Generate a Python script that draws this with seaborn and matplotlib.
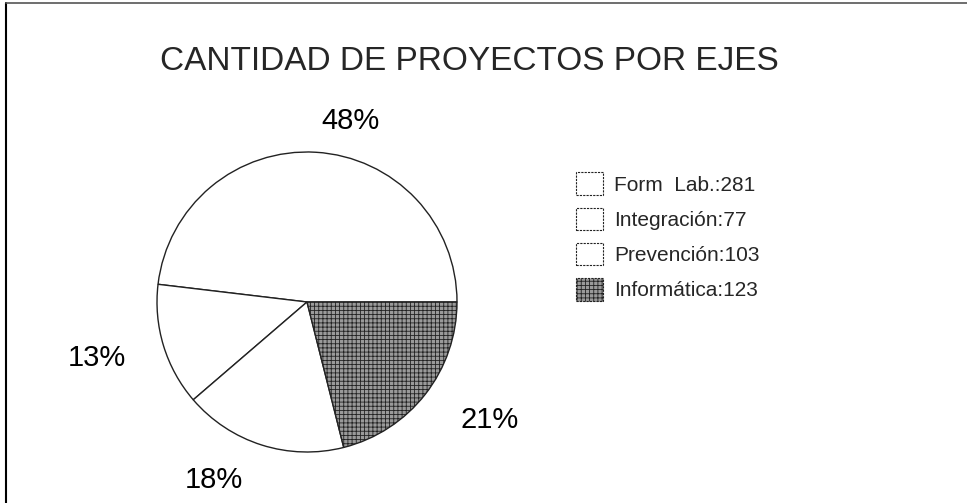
import numpy as np
import matplotlib
matplotlib.use('Agg')
import matplotlib.pyplot as plt
from matplotlib.lines import Line2D
import seaborn as sns

# data
categorias = ['Form Lab.', 'Integración', 'Prevención', 'Informática']
proyectos = [281, 77, 103, 123]
leyenda = ['Form  Lab.:281', 'Integración:77', 'Prevención:103', 'Informática:123']
titulo = 'CANTIDAD DE PROYECTOS POR EJES'

sns.set_theme(style='white')
plt.rcParams['font.family'] = ['Liberation Sans', 'DejaVu Sans']
plt.rcParams['hatch.color'] = '#444444'
plt.rcParams['hatch.linewidth'] = 0.6

fig = plt.figure(figsize=(9.67, 5.03), dpi=100)
fig.patch.set_facecolor('white')
ax = fig.add_axes([157 / 967, 51 / 503, 300 / 967, 300 / 503])

colores = ['white', 'white', 'white', '#9a9a9a']
wedges, textos, pcts = ax.pie(proyectos, colors=colores, startangle=0, counterclock=True,
                              autopct='%1.0f%%', pctdistance=1.3,
                              wedgeprops=dict(edgecolor='#222222', linewidth=1.0),
                              textprops=dict(fontsize=21, color='black'))
wedges[3].set_hatch('++++')
ax.set_xlim(-1, 1)
ax.set_ylim(-1, 1)
ax.axis('off')

# move percentage labels the way the original places them
ajuste_ang = [-10, -2, -10, 5]
radio = [1.24, 1.45, 1.34, 1.45]
for w, t, da, r in zip(wedges, pcts, ajuste_ang, radio):
    ang = np.deg2rad((w.theta1 + w.theta2) / 2 + da)
    t.set_position((r * np.cos(ang), r * np.sin(ang)))
    t.set_ha('center')
    t.set_va('center')

fig.text(0.485, 0.877, titulo, ha='center', va='center', fontsize=24)

leg = fig.legend(wedges, leyenda, loc='upper left', bbox_to_anchor=(568 / 967, 1 - 164 / 503),
                 frameon=False, fontsize=15, handlelength=1.3, handleheight=1.3,
                 labelspacing=0.6, handletextpad=0.5, borderaxespad=0)
for h in leg.legend_handles:
    h.set_linewidth(0.8)
    h.set_linestyle((0, (2, 1)))

# scanned page frame (left and top edges)
fig.add_artist(Line2D([0.006, 0.006], [0, 0.994], transform=fig.transFigure, color='black', lw=1.5))
fig.add_artist(Line2D([0.006, 1.0], [0.994, 0.994], transform=fig.transFigure, color='#555555', lw=1.2))

plt.savefig('out.png', dpi=100)
